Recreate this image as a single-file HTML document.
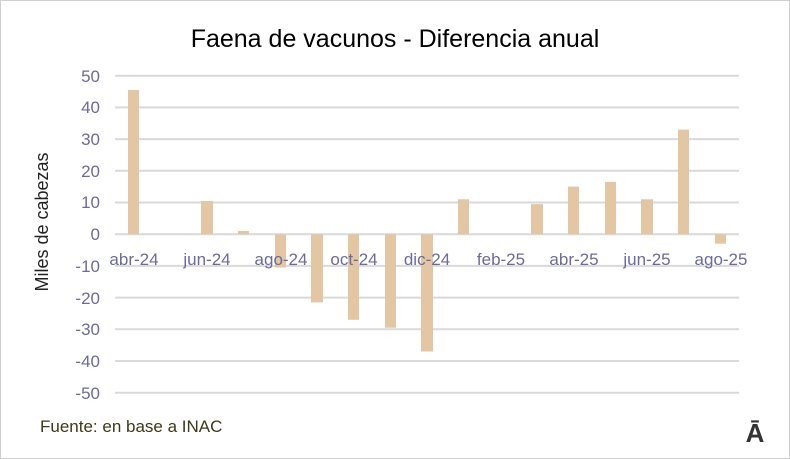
<!DOCTYPE html>
<html><head><style>body{margin:0;background:#fff}svg{display:block}</style></head><body>
<svg width="790" height="459" xmlns="http://www.w3.org/2000/svg" font-family="Liberation Sans, sans-serif">
<rect x="0.5" y="0.5" width="789" height="458" fill="#fff" stroke="#d0d0d0"/>
<text x="395" y="47" font-size="25" text-anchor="middle" fill="#000">Faena de vacunos - Diferencia anual</text>
<g stroke="#d9d9d9" stroke-width="2">
<line x1="115" x2="739" y1="75.7" y2="75.7"/><line x1="115" x2="739" y1="107.4" y2="107.4"/>
<line x1="115" x2="739" y1="139.1" y2="139.1"/><line x1="115" x2="739" y1="170.8" y2="170.8"/>
<line x1="115" x2="739" y1="202.5" y2="202.5"/><line x1="115" x2="739" y1="234.2" y2="234.2"/>
<line x1="115" x2="739" y1="265.9" y2="265.9"/><line x1="115" x2="739" y1="297.6" y2="297.6"/>
<line x1="115" x2="739" y1="329.3" y2="329.3"/><line x1="115" x2="739" y1="361" y2="361"/>
<line x1="115" x2="739" y1="392.7" y2="392.7"/>
</g>
<g fill="#6b6b9b" font-size="17" text-anchor="end">
<text x="100" y="82">50</text><text x="100" y="113">40</text><text x="100" y="145">30</text>
<text x="100" y="177">20</text><text x="100" y="208">10</text><text x="100" y="240">0</text>
<text x="100" y="272">-10</text><text x="100" y="304">-20</text><text x="100" y="335">-30</text>
<text x="100" y="367">-40</text><text x="100" y="399">-50</text>
</g>
<g fill="#e3c6a3">
<rect x="128" y="89.9" width="11" height="144.3"/>
<rect x="201" y="201" width="12" height="33.2"/>
<rect x="238" y="231" width="11" height="3.2"/>
<rect x="275" y="234.2" width="11" height="33.3"/>
<rect x="311" y="234.2" width="12" height="68.2"/>
<rect x="348" y="234.2" width="11" height="85.6"/>
<rect x="385" y="234.2" width="11" height="93.5"/>
<rect x="421" y="234.2" width="12" height="117.3"/>
<rect x="458" y="199.3" width="11" height="34.9"/>
<rect x="531" y="204.1" width="12" height="30.1"/>
<rect x="568" y="186.6" width="11" height="47.6"/>
<rect x="605" y="181.9" width="11" height="52.3"/>
<rect x="641" y="199.3" width="12" height="34.9"/>
<rect x="678" y="129.6" width="11" height="104.6"/>
<rect x="715" y="234.2" width="11" height="9.5"/>
</g>
<g fill="#6b6b9b" font-size="17" text-anchor="middle">
<text x="134" y="265">abr-24</text><text x="207" y="265">jun-24</text><text x="281" y="265">ago-24</text>
<text x="354" y="265">oct-24</text><text x="427" y="265">dic-24</text><text x="501" y="265">feb-25</text>
<text x="574" y="265">abr-25</text><text x="647" y="265">jun-25</text><text x="721" y="265">ago-25</text>
</g>
<text transform="translate(48,222) rotate(-90)" font-size="18" text-anchor="middle" fill="#222">Miles de cabezas</text>
<text x="40" y="432" font-size="17" fill="#3a3a1a">Fuente: en base a INAC</text>
<text x="755" y="442" font-size="26" font-weight="bold" text-anchor="middle" fill="#333">Ā</text>
</svg>
</body></html>
